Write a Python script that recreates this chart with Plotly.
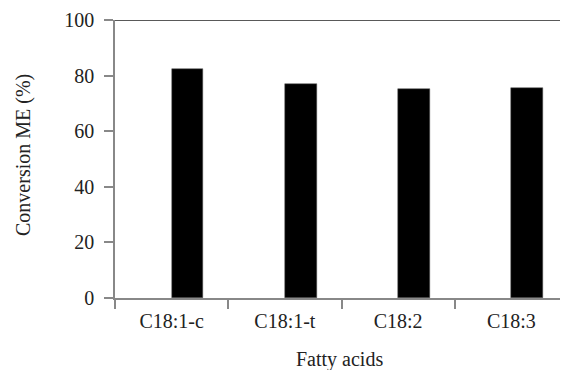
import plotly.graph_objects as go

categories = ["C18:1-c", "C18:1-t", "C18:2", "C18:3"]
conversion = [82.3, 77.1, 75.1, 75.4]
y_ticks = [0, 20, 40, 60, 80, 100]
x_title = "Fatty acids"
y_title = "Conversion ME (%)"

FONT = "Liberation Serif"
TXT = "#222"

fig = go.Figure()
fig.add_trace(go.Bar(
    x=categories, y=conversion,
    width=0.28, offset=0.0,
    marker=dict(color="black", line=dict(color="#555", width=0.5)),
    showlegend=False,
))

fig.update_layout(
    width=568, height=370,
    margin=dict(l=107, r=8, t=12, b=80),
    paper_bgcolor="white", plot_bgcolor="white",
    font=dict(family=FONT, size=20, color=TXT),
    bargap=0,
    xaxis=dict(
        range=[-0.5, 3.5], automargin=False,
        showline=True, linecolor="#888", linewidth=1.5,
        ticks="outside", tickson="boundaries", ticklen=9, tickcolor="#888", tickwidth=1.5,
        ticklabelstandoff=4,
        showgrid=False, zeroline=False,
        tickfont=dict(family=FONT, size=20, color=TXT),
    ),
    yaxis=dict(
        range=[0, 100], automargin=False,
        tickvals=y_ticks,
        showline=True, linecolor="#888", linewidth=1.5,
        ticks="outside", ticklen=9, tickcolor="#888", tickwidth=1.5,
        ticklabelstandoff=6,
        showgrid=False, zeroline=False,
        tickfont=dict(family=FONT, size=20, color=TXT),
    ),
    shapes=[dict(type="line", xref="paper", yref="y", x0=0, x1=1, y0=100, y1=100,
                 line=dict(color="#222", width=1.5))],
    annotations=[
        dict(text=x_title, xref="paper", yref="paper", x=0.5, y=0, xanchor="center",
             yanchor="middle", yshift=-61, xshift=-2, showarrow=False,
             font=dict(family=FONT, size=20, color=TXT)),
        dict(text=y_title, xref="paper", yref="paper", x=0, y=0.5, xanchor="center",
             yanchor="middle", xshift=-92, yshift=4, textangle=-90, showarrow=False,
             font=dict(family=FONT, size=20, color=TXT)),
    ],
)

fig.write_html("out.html")
